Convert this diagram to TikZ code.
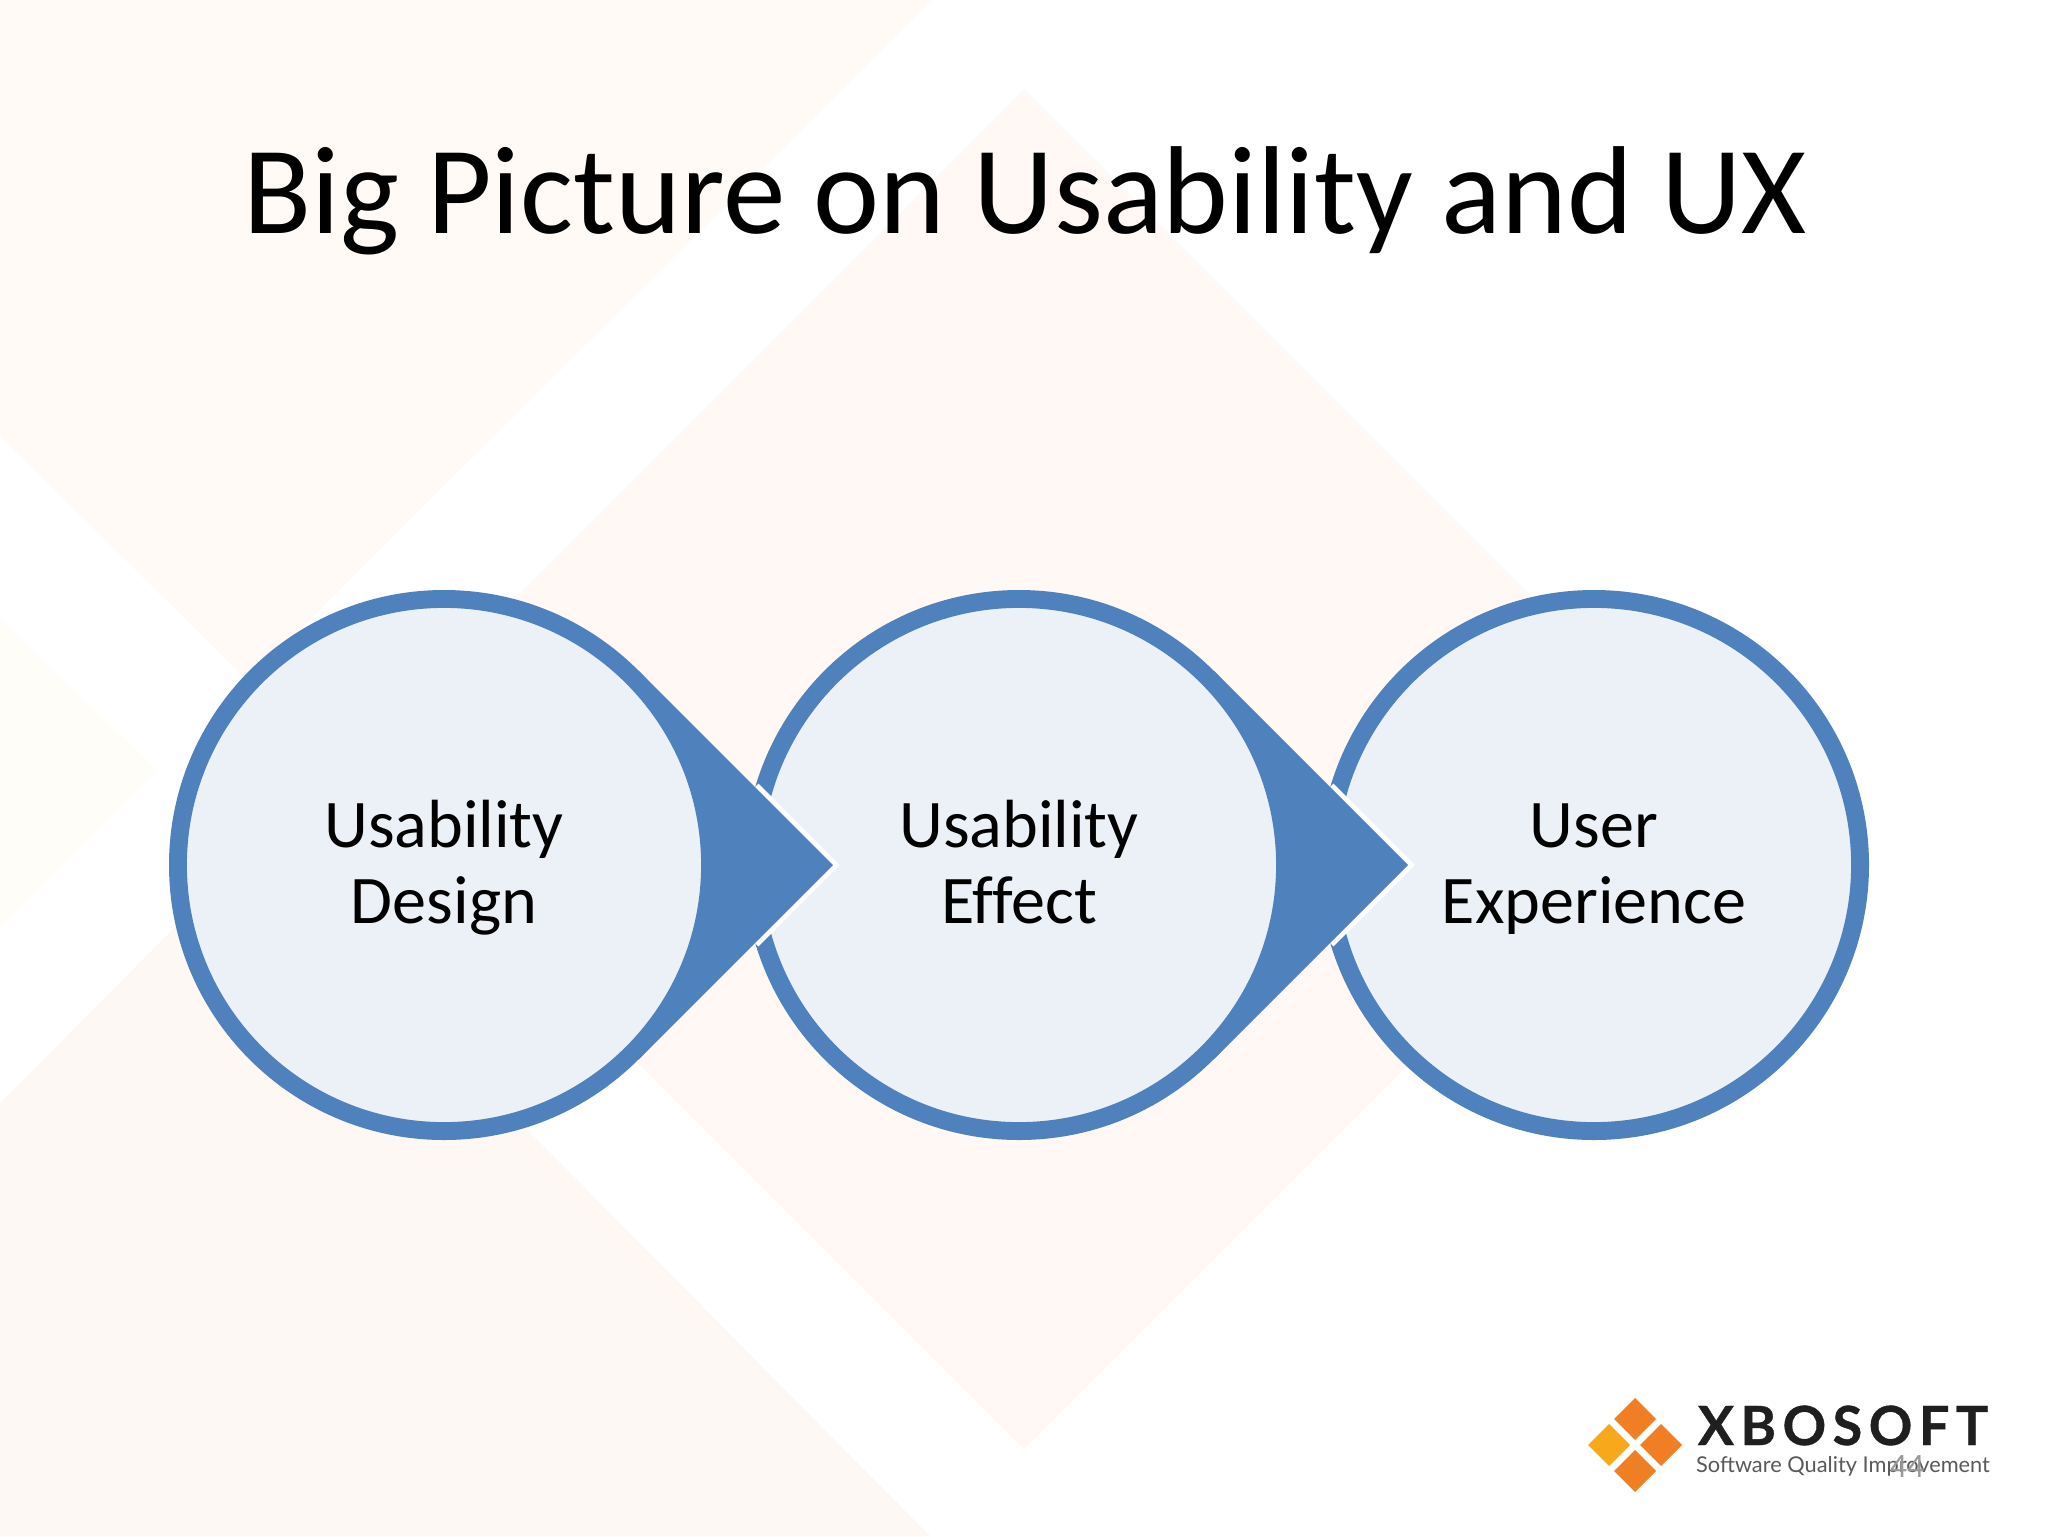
\documentclass[tikz,border=0pt]{standalone}
\usepackage{fontspec}
\setmainfont[Ligatures=NoCommon]{Carlito}
\newfontfamily\logofont[LetterSpace=12,FakeBold=0.7]{Lato}
\newfontfamily\tagfont{Lato}
\usepackage{xcolor}
\usepackage{tikz}

\definecolor{paletop}{HTML}{FFFAF5}
\definecolor{palemid}{HTML}{FFF8F5}
\definecolor{palelow}{HTML}{FEF8F4}
\definecolor{paleleft}{HTML}{FFFDF7}
\definecolor{ringblue}{HTML}{4F81BD}
\definecolor{ringfill}{HTML}{ECF1F8}
\definecolor{logoorange}{HTML}{F07F23}
\definecolor{logoamber}{HTML}{F7A81B}

% keep both text lines of a circle at the same height, whatever their letters
\newcommand{\topline}{\rule{0pt}{22.3pt}}
\newcommand{\lowline}{\rule[-8pt]{0pt}{8pt}}

\tikzset{
	stepcircle/.style={circle, draw=ringblue, fill=ringfill, line width=6.3pt, minimum size=187.3pt, inner sep=0pt, align=center, text=black, font=\fontsize{24}{26.7}\selectfont},
	stephalo/.style={draw=white, line width=3.4pt, line join=miter},
	steparrow/.style={fill=ringblue},
	logotile/.style={fill=logoorange}
}

\begin{document}
\begin{tikzpicture}[x=0.352pt, y=-0.352pt]
		\useasboundingbox (0,0) rectangle (2048,1536);
		\fill[white] (0,0) rectangle (2048,1536);

		% pale background diamonds
		\fill[paletop] (0,0) -- (932,0) -- (248,681) -- (0,436) -- cycle;
		\fill[paleleft] (0,618) -- (156,770) -- (0,926) -- cycle;
		\fill[palelow] (0,1536) -- (930,1536) -- (251,851) -- (0,1103) -- cycle;
		\fill[palemid] (1024,89) -- (1704,769) -- (1024,1449) -- (344,769) -- cycle;

		\node (title) at (1025,233) [anchor=base, font=\fontsize{44.05}{50}\selectfont] {Big Picture on Usability and UX};

		% circles go from right to left, each arrow lies over the next circle
		\coordinate (tip1) at (833,865);
		\coordinate (tip2) at (1408,865);
		\coordinate (cut1a) at (755,787);
		\coordinate (cut1b) at (755,943);
		\coordinate (cut2a) at (1330,787);
		\coordinate (cut2b) at (1330,943);

		\node[stepcircle] (ux) at (1594,865) {\topline User\\Experience\lowline};

		\draw[stephalo] (cut2a) -- (tip2) -- (cut2b);
		\fill[steparrow] (tip2) -- ++(-194.5,-194.5) -- ++(0,389) -- cycle;
		\node[stepcircle] (effect) at (1019,865) {\topline Usability\\Effect\lowline};

		\draw[stephalo] (cut1a) -- (tip1) -- (cut1b);
		\fill[steparrow] (tip1) -- ++(-194.5,-194.5) -- ++(0,389) -- cycle;
		\node[stepcircle] (design) at (444,865) {\topline Usability\\Design\lowline};

		% logo
		\coordinate (logo) at (1635,1445);
		\fill[logotile] (logo) ++(0,-47) -- ++(21,21) -- ++(-21,21) -- ++(-21,-21) -- cycle;
		\fill[logotile] (logo) ++(0,5) -- ++(21,21) -- ++(-21,21) -- ++(-21,-21) -- cycle;
		\fill[logotile] (logo) ++(5,0) -- ++(21,-21) -- ++(21,21) -- ++(-21,21) -- cycle;
		\fill[logoamber] (logo) ++(-5,0) -- ++(-21,-21) -- ++(-21,21) -- ++(21,21) -- cycle;

		\node (brand) at (1843,1445) [anchor=base, text=black!88, font=\logofont\bfseries\fontsize{19}{21}\selectfont] {XBOSOFT};
		\node (tagline) at (1843,1472) [anchor=base, text=black!65, font=\tagfont\fontsize{7.67}{9}\selectfont] {Software Quality Improvement};
		\node (pagenum) at (1907,1477) [anchor=base, text=black!40, font=\fontsize{12}{14}\selectfont] {44};
	\end{tikzpicture}
\end{document}
